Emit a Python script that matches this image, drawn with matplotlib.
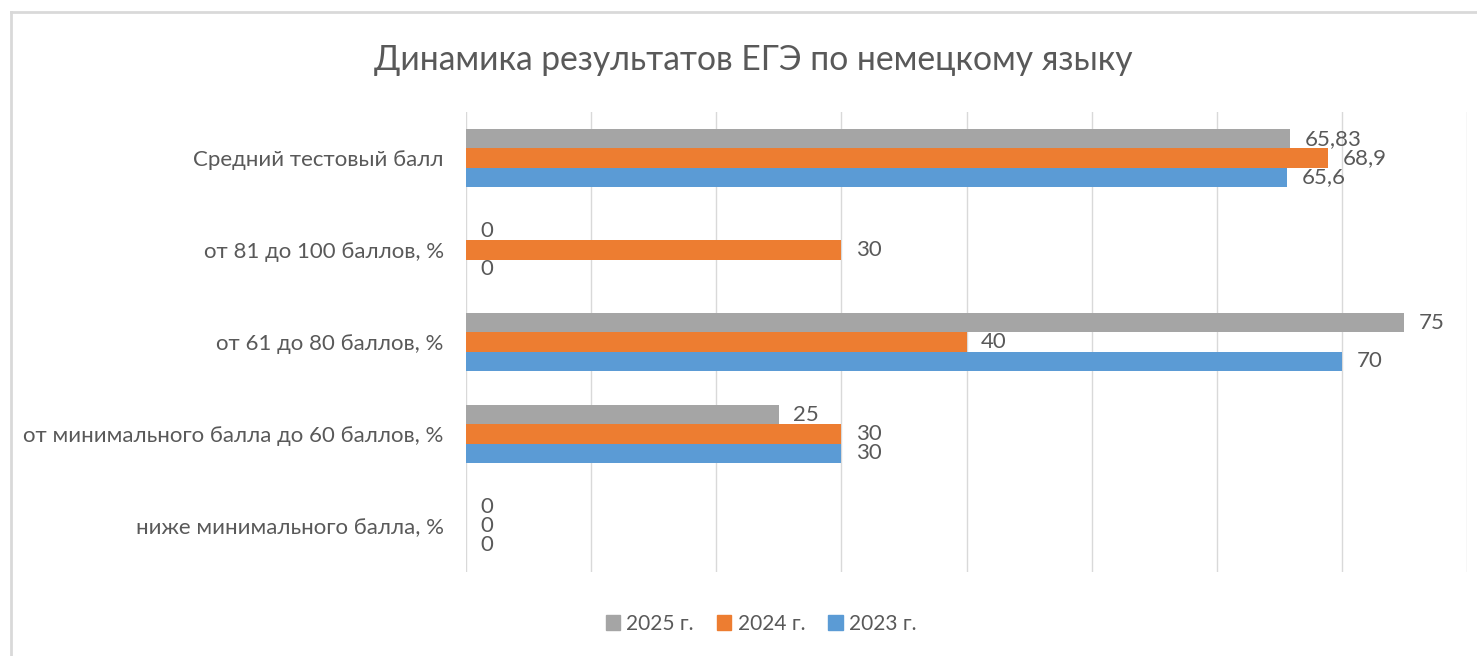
import matplotlib
matplotlib.use('Agg')
import matplotlib.pyplot as plt
import numpy as np
from matplotlib.lines import Line2D
from matplotlib.patches import Patch

categories = ['Средний тестовый балл', 'от 81 до 100 баллов, %', 'от 61 до 80 баллов, %',
              'от минимального балла до 60 баллов, %', 'ниже минимального балла, %']
years = ['2025 г.', '2024 г.', '2023 г.']
vals_2025 = [65.83, 0, 75, 25, 0]
vals_2024 = [68.9, 30, 40, 30, 0]
vals_2023 = [65.6, 0, 70, 30, 0]
labels_2025 = ['65,83', '0', '75', '25', '0']
labels_2024 = ['68,9', '30', '40', '30', '0']
labels_2023 = ['65,6', '0', '70', '30', '0']

colors = ['#A5A5A5', '#ED7D31', '#5B9BD5']
txt = '#595959'
grid = '#D9D9D9'
plt.rcParams['font.family'] = ['Lato', 'DejaVu Sans']

W, H = 1477, 656
fig = plt.figure(figsize=(W / 100, H / 100), dpi=100)
ax = fig.add_axes([466 / W, 1 - 572 / H, (1467 - 466) / W, (572 - 112) / H])

y = np.arange(len(categories))
h = 0.207
series = [(vals_2025, labels_2025), (vals_2024, labels_2024), (vals_2023, labels_2023)]
for k, (vals, labs) in enumerate(series):
    pos = y + (k - 1) * h
    ax.barh(pos, vals, height=h, color=colors[k], label=years[k], zorder=3)
    for p, v, s in zip(pos, vals, labs):
        ax.annotate(s, (v, p), xytext=(10.5, 0), textcoords='offset points',
                    ha='left', va='center', fontsize=16, color=txt)

ax.set_xlim(0, 80)
ax.set_ylim(len(categories) - 0.5, -0.5)
ax.set_xticks(np.arange(0, 81, 10))
ax.set_xticklabels([])
ax.tick_params(axis='x', length=0)
ax.tick_params(axis='y', length=0, pad=16)
ax.set_yticks(y)
ax.set_yticklabels(categories, fontsize=16, color=txt)
ax.grid(axis='x', color=grid, linewidth=1, zorder=0)
for sp in ax.spines.values():
    sp.set_visible(False)

fig.suptitle('Динамика результатов ЕГЭ по немецкому языку', x=753 / W, y=1 - 60 / H,
             va='center', fontsize=24.2, color=txt)

handles = [Patch(color=c) for c in colors]
fig.legend(handles, years, loc='center', bbox_to_anchor=(761 / W, 1 - 624 / H), ncol=3,
           frameon=False, fontsize=15, labelcolor=txt, handlelength=0.7, handleheight=0.7,
           handletextpad=0.3, columnspacing=1.1)

# chart frame
fig.add_artist(Line2D([11 / W, 1], [1 - 12 / H, 1 - 12 / H], color=grid, linewidth=2))
fig.add_artist(Line2D([11 / W, 11 / W], [0, 1 - 12 / H], color=grid, linewidth=2))

fig.savefig('out.png', dpi=100, facecolor='white')
